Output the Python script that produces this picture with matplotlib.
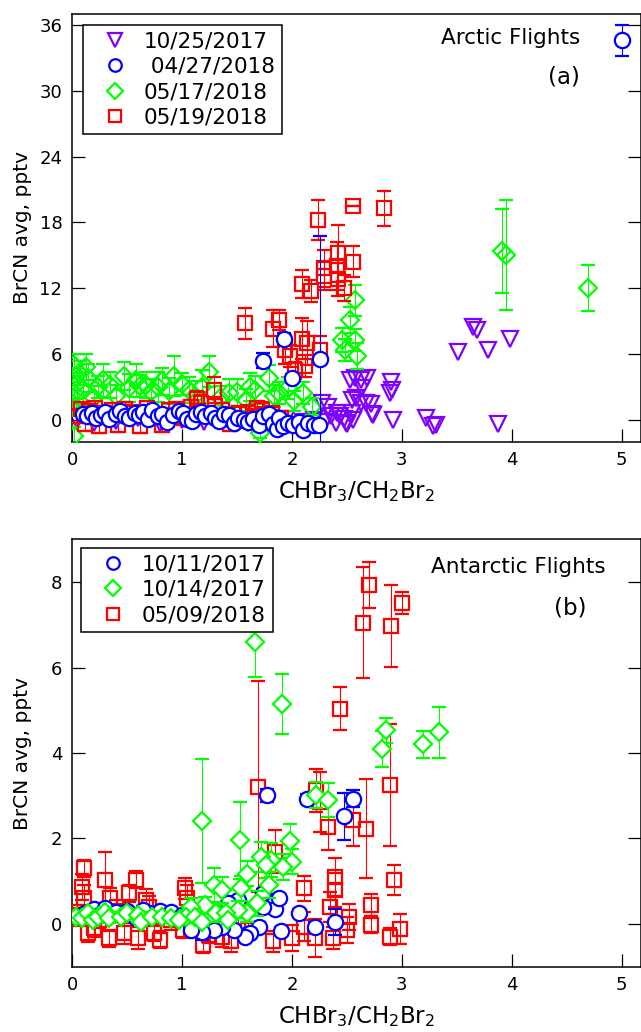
import matplotlib
matplotlib.use('Agg')
import matplotlib.pyplot as plt
from matplotlib.lines import Line2D

plt.rcParams['font.family'] = ['DejaVu Sans']
plt.rcParams['mathtext.default'] = 'regular'

# ---------------- panel (a): Arctic flights ----------------
a_oct25_x = [3.51, 3.65, 3.68, 3.78, 3.98, 3.87, 3.22, 3.28, 3.31, 2.90, 2.91, 2.92, 2.72, 2.73,
             2.63, 2.57, 2.64, 2.55, 2.63, 2.55, 2.56, 2.44, 2.27, 2.33, 2.36, 2.40, 2.30, 2.47,
             2.50, 2.20, 2.10, 1.95, 1.80, 1.60, 1.40, 1.20, 1.00, 0.80, 0.60, 0.40, 0.20, 0.05,
             2.53, 2.68, 2.89, 2.58, 2.67, 2.74, 2.41, 2.49]
a_oct25_y = [6.2, 8.5, 8.2, 6.4, 7.4, -0.4, 0.2, -0.6, -0.5, 3.4, 2.7, 0.0, 1.4, 0.5,
             3.6, 3.8, 2.9, 1.8, 1.5, 0.6, 0.0, 0.3, 1.5, 1.2, 0.3, -0.3, -0.2, 0.1,
             -0.4, 0.0, -0.2, 0.1, 0.2, -0.3, 0.1, -0.2, 0.0, -0.3, 0.2, -0.1, -0.3, 0.0,
             3.6, 3.8, 2.4, 2.0, 1.5, 0.45, 0.6, -0.3]

a_apr27_x = [0.10, 0.14, 0.18, 0.22, 0.26, 0.30, 0.34, 0.40, 0.44, 0.48, 0.52, 0.57, 0.61, 0.65,
             0.69, 0.73, 0.78, 0.82, 0.86, 0.92, 0.97, 1.01, 1.05, 1.09, 1.13, 1.17, 1.21, 1.26,
             1.30, 1.34, 1.38, 1.43, 1.47, 1.51, 1.56, 1.60, 1.65, 1.70, 1.74, 1.79, 1.83, 1.86,
             1.88, 1.92, 1.96, 2.01, 2.06, 2.10, 2.15, 2.20, 2.25,
             1.74, 1.93, 2.00, 2.26, 5.00]
a_apr27_y = [0.5, 0.3, 0.6, 0.2, 0.4, 0.7, 0.1, 0.5, 0.8, 0.3, 0.2, 0.6, 0.4, 0.7,
             0.1, 0.9, 0.3, 0.5, -0.2, 0.4, 0.8, 0.6, 0.1, -0.1, 0.5, 0.7, 0.3, 0.6,
             0.2, -0.1, 0.5, 0.4, -0.3, 0.2, 0.0, -0.2, 0.1, -0.5, 0.3, 0.5, -0.4, -0.8,
             0.2, -0.6, -0.3, -0.5, -0.2, -0.9, -0.3, -0.5, -0.5,
             5.4, 7.4, 3.8, 5.5, 34.6]
a_apr27_err = [0.4, 0.3, 0.4, 0.3, 0.4, 0.3, 0.4, 0.3, 0.4, 0.3, 0.4, 0.3, 0.4, 0.3,
               0.4, 0.3, 0.4, 0.3, 0.4, 0.3, 0.4, 0.3, 0.4, 0.3, 0.4, 0.3, 0.4, 0.3,
               0.4, 0.3, 0.4, 0.3, 0.4, 0.3, 0.4, 0.3, 0.4, 0.3, 0.4, 0.3, 0.4, 0.3,
               0.4, 0.3, 0.4, 0.3, 0.4, 0.3, 0.4, 0.3, 0.4,
               0.7, 0.5, 0.4, 11.3, 1.4]

a_may17_x = [3.91, 3.95, 4.69, 2.57, 2.53, 2.57, 2.46, 2.48, 2.59,
             0.02, 0.06, 0.15, 0.24, 0.28, 0.47, 0.58, 0.67, 0.82, 0.93, 1.06, 1.25, 1.43, 1.66,
             1.79, 1.88, 1.96, 2.10, 1.71, 0.02, 0.00, 0.02, 0.10, 0.35, 0.40, 0.52, 0.62, 0.72,
             0.78, 0.88, 1.00, 1.12, 1.18, 1.35, 1.50, 1.58, 1.62, 1.84, 2.02, 2.18, 0.20, 0.13, 0.05]
a_may17_y = [15.4, 15.0, 12.0, 10.9, 9.1, 7.3, 7.3, 6.4, 5.8,
             5.0, 4.3, 3.8, 3.0, 3.6, 4.0, 3.6, 3.2, 3.5, 4.0, 2.7, 4.4, 2.4, 2.7,
             3.8, 2.4, 2.9, 2.4, -1.2, 2.4, 1.5, -1.5, 2.8, 3.2, 2.2, 2.9, 3.1, 2.5,
             3.0, 2.6, 3.3, 2.2, 3.0, 2.0, 2.5, 1.8, 3.0, 2.2, 1.7, 1.2, 2.0, 4.8, 3.3]
a_may17_err = [3.8, 5.0, 2.1, 1.4, 1.2, 1.0, 1.1, 1.0, 1.2,
               1.0, 1.1, 1.3, 1.0, 1.5, 1.3, 1.5, 1.2, 1.2, 1.8, 1.2, 1.4, 1.3, 1.3,
               1.2, 1.0, 1.0, 1.0, 0.5, 1.0, 1.2, 0.8, 1.5, 1.2, 1.0, 1.3, 1.0, 1.2,
               1.4, 1.2, 1.0, 1.3, 1.5, 1.1, 1.2, 1.0, 1.3, 1.0, 0.9, 0.8, 1.1, 1.2, 1.4]

a_may19_x = [2.24, 2.56, 2.84, 1.57, 1.83, 1.88, 2.09, 2.17, 2.29, 2.29, 2.42, 2.41, 2.42, 2.47,
             2.56, 2.09, 2.14, 2.12, 2.26, 1.94, 1.29, 1.17, 1.14, 1.68, 1.73, 2.03, 1.98,
             0.04, 0.08, 0.12, 0.16, 0.21, 0.25, 0.30, 0.36, 0.42, 0.48, 0.55, 0.62, 0.68, 0.75,
             0.82, 0.88, 0.95, 1.02, 1.08, 1.15, 1.22, 1.30, 1.36, 1.44, 1.52, 1.60, 1.66, 1.75,
             1.82, 1.90]
a_may19_y = [18.2, 19.5, 19.3, 8.8, 8.3, 9.1, 12.4, 11.7, 13.8, 13.1, 15.2, 14.0, 12.8, 12.0,
             14.4, 7.4, 7.0, 4.9, 6.4, 6.4, 2.7, 1.5, 1.9, 1.1, 0.9, 4.5, 5.8,
             0.3, 1.0, -0.4, 0.8, 1.1, -0.6, 0.6, 0.9, -0.5, 1.0, 0.7, -0.6, 1.1, 0.4,
             -0.5, 0.9, 1.0, 0.2, 1.2, 0.8, 0.5, 1.3, 0.9, -0.4, 0.6, 0.7, 0.3, 0.5,
             0.6, 0.2]
a_may19_err = [1.8, 0.0, 1.6, 1.4, 1.7, 0.9, 1.3, 1.0, 1.7, 1.3, 2.6, 2.2, 1.5, 1.2,
               1.4, 1.9, 2.0, 1.0, 1.2, 1.3, 1.2, 0.8, 0.7, 0.6, 0.7, 0.8, 1.0,
               0.6, 0.6, 0.6, 0.6, 0.6, 0.6, 0.6, 0.6, 0.6, 0.6, 0.6, 0.6, 0.6, 0.6,
               0.6, 0.6, 0.6, 0.6, 0.6, 0.6, 0.6, 0.6, 0.6, 0.6, 0.6, 0.6, 0.6, 0.6,
               0.6, 0.6]

# ---------------- panel (b): Antarctic flights ----------------
b_oct11_x = [1.77, 2.14, 2.56, 2.47, 2.39, 2.21, 2.06, 1.90, 1.85, 1.88, 1.74, 1.70, 1.62, 1.57,
             1.47, 1.36, 1.29, 1.18, 1.08, 1.51, 1.42, 1.74, 0.20, 0.30, 0.40, 0.50, 0.58, 0.70,
             0.80, 0.90, 1.00, 0.12, 0.25, 0.65]
b_oct11_y = [3.01, 2.93, 2.93, 2.52, 0.05, -0.06, 0.26, -0.16, 0.34, 0.60, 0.40, -0.06, -0.20, -0.30,
             -0.14, -0.06, -0.14, -0.18, -0.14, 0.56, 0.48, 0.72, 0.35, 0.38, 0.28, 0.30, 0.13, 0.25,
             0.30, 0.28, 0.22, 0.25, 0.20, 0.32]
b_oct11_err = [0.15, 0.10, 0.20, 0.55, 0.30, 0.10, 0.10, 0.10, 0.10, 0.10, 0.10, 0.10, 0.10, 0.10,
               0.10, 0.10, 0.10, 0.20, 0.10, 0.10, 0.10, 0.10, 0.10, 0.10, 0.10, 0.10, 0.10, 0.10,
               0.10, 0.10, 0.10, 0.10, 0.10, 0.10]

b_oct14_x = [1.66, 1.91, 2.82, 2.86, 3.19, 3.34, 1.18, 1.53, 1.98, 2.22, 2.33, 2.00, 1.92, 1.81,
             1.72, 1.76, 1.79, 1.59, 1.54, 1.29, 1.36, 1.68, 1.59, 1.51, 1.21, 1.08, 1.31, 1.04,
             0.04, 0.09, 0.15, 0.19, 0.24, 0.30, 0.34, 0.45, 0.50, 0.60, 0.63, 0.73, 0.82, 0.90,
             0.97, 1.12, 1.18, 1.40, 1.42]
b_oct14_y = [6.60, 5.15, 4.10, 4.53, 4.20, 4.48, 2.41, 1.96, 1.94, 3.01, 2.90, 1.46, 1.34, 1.49,
             1.57, 1.38, 0.91, 1.18, 0.83, 0.91, 0.79, 0.48, 0.25, 0.33, 0.44, 0.40, 0.25, 0.17,
             0.17, 0.13, 0.25, 0.09, 0.17, 0.29, 0.13, 0.17, 0.25, 0.21, 0.05, 0.17, 0.17, 0.13,
             0.09, 0.17, 0.05, 0.25, 0.09]
b_oct14_err = [0.83, 0.70, 0.42, 0.30, 0.32, 0.60, 1.45, 0.90, 0.40, 0.30, 0.40, 0.30, 0.30, 0.40,
               0.35, 0.30, 0.30, 0.30, 0.30, 0.40, 0.30, 0.30, 0.20, 0.20, 0.20, 0.20, 0.20, 0.15,
               0.10, 0.10, 0.10, 0.10, 0.10, 0.10, 0.10, 0.10, 0.10, 0.10, 0.10, 0.10, 0.10, 0.10,
               0.10, 0.10, 0.10, 0.10, 0.10]

b_may09_x = [2.70, 2.65, 2.90, 3.00, 2.44, 1.69, 2.89, 2.33, 2.67, 2.56, 2.26, 2.22, 2.93, 2.72,
             2.72, 2.89, 2.98, 2.39, 2.39, 2.11, 2.35, 2.52, 2.50, 2.37, 2.21, 2.11, 2.00, 1.83,
             1.85, 0.11, 0.09, 0.11, 0.30, 0.35, 0.52, 0.58, 0.67, 0.15, 0.34, 0.47, 0.60, 0.80,
             1.03, 1.05, 1.19, 1.36, 1.51, 1.01, 0.20, 0.40, 0.75, 0.90, 1.25, 1.45, 1.60, 0.05,
             0.25, 0.70]
b_may09_y = [7.93, 7.05, 6.97, 7.51, 5.04, 3.21, 3.25, 2.27, 2.23, 2.43, 2.86, 3.13, 1.03, 0.44,
             -0.02, -0.30, -0.12, 1.10, 0.80, 0.83, 0.40, 0.17, -0.14, -0.33, -0.33, -0.06, -0.33, -0.41,
             1.69, 1.30, 0.87, 0.60, 1.03, 0.60, 0.72, 1.03, 0.56, -0.22, -0.33, -0.22, -0.33, -0.37,
             0.83, 0.60, -0.49, -0.30, -0.02, -0.14, -0.10, 0.30, -0.20, 0.10, -0.25, -0.40, -0.15, 0.20,
             0.10, 0.40]
b_may09_err = [0.53, 1.30, 0.95, 0.25, 0.50, 2.47, 1.43, 0.55, 1.15, 0.60, 0.70, 0.50, 0.35, 0.25,
               0.20, 0.20, 0.35, 0.45, 0.40, 0.30, 0.35, 0.30, 0.30, 0.25, 0.45, 0.35, 0.30, 0.25,
               0.50, 0.20, 0.30, 0.30, 0.65, 0.25, 0.20, 0.20, 0.25, 0.20, 0.20, 0.25, 0.25, 0.20,
               0.25, 0.30, 0.20, 0.25, 0.25, 0.20, 0.20, 0.25, 0.20, 0.25, 0.20, 0.25, 0.20, 0.25,
               0.20, 0.25]

PURPLE = '#7f00ff'
BLUE = '#0000ff'
GREEN = '#00ff00'
RED = '#ff0000'
FS_TICK = 13
FS_LAB = 14.5
FS_LEG = 15.5

fig = plt.figure(figsize=(6.41, 10.32), dpi=100)
ax_a = fig.add_axes([72/641, 1 - 441.7/1032, 1 - 72/641, 427.7/1032])
ax_b = fig.add_axes([72/641, 1 - 966.7/1032, 1 - 72/641, 427.4/1032])


def errpts(ax, x, y, err, marker, color, ms, face='none', z=2):
    ax.errorbar(x, y, yerr=err, fmt=marker, ms=ms, mfc=face, mec=color, mew=1.6,
                ecolor=color, elinewidth=0.8, capsize=4.7, capthick=1.0, zorder=z)


# panel a
ax_a.plot(a_oct25_x, a_oct25_y, 'v', ms=11.5, mfc='none', mec=PURPLE, mew=1.6, zorder=2)
errpts(ax_a, a_may17_x, a_may17_y, a_may17_err, 'D', GREEN, 9.0, z=3)
errpts(ax_a, a_may19_x, a_may19_y, a_may19_err, 's', RED, 10.5, z=4)
errpts(ax_a, a_apr27_x, a_apr27_y, a_apr27_err, 'o', BLUE, 11, face='white', z=5)

# panel b
errpts(ax_b, b_may09_x, b_may09_y, b_may09_err, 's', RED, 10.5, z=3)
errpts(ax_b, b_oct11_x, b_oct11_y, b_oct11_err, 'o', BLUE, 11, face='white', z=4)
errpts(ax_b, b_oct14_x, b_oct14_y, b_oct14_err, 'D', GREEN, 9.0, face='white', z=5)

for ax in (ax_a, ax_b):
    ax.set_xlim(0, 5.175)
    ax.set_xticks([0, 1, 2, 3, 4, 5])
    ax.tick_params(direction='in', length=9.5, width=0.9, labelsize=FS_TICK, pad=7,
                   left=True, right=True, top=False, bottom=True)
    for s in ax.spines.values():
        s.set_linewidth(1.1)
    ax.set_xlabel('CHBr$_3$/CH$_2$Br$_2$', fontsize=16.5, labelpad=7)
    ax.set_ylabel('BrCN avg, pptv', fontsize=FS_LAB)
    ax.yaxis.set_label_coords(-0.071, 0.5)

ax_a.set_ylim(-2, 37)
ax_a.set_yticks([0, 6, 12, 18, 24, 30, 36])
ax_b.set_ylim(-1, 9)
ax_b.set_yticks([0, 2, 4, 6, 8])

ax_a.text(0.893, 0.944, 'Arctic Flights', transform=ax_a.transAxes, ha='right', va='center', fontsize=FS_LEG)
ax_a.text(0.893, 0.853, '(a)', transform=ax_a.transAxes, ha='right', va='center', fontsize=FS_LEG + 1)
ax_b.text(0.937, 0.935, 'Antarctic Flights', transform=ax_b.transAxes, ha='right', va='center', fontsize=FS_LEG)
ax_b.text(0.905, 0.839, '(b)', transform=ax_b.transAxes, ha='right', va='center', fontsize=FS_LEG + 1)


def handle(marker, color, ms):
    return Line2D([], [], ls='none', marker=marker, ms=ms, mfc='none', mec=color, mew=1.6)


leg_kw = dict(loc='upper left', bbox_transform=fig.transFigure, borderaxespad=0, fontsize=FS_LEG,
              frameon=True, fancybox=False, edgecolor='black', framealpha=1, numpoints=1,
              handlelength=2.4, handletextpad=0.15, borderpad=0.3, labelspacing=0.25)

la = ax_a.legend([handle('v', PURPLE, 10.5), handle('o', BLUE, 9), handle('D', GREEN, 8.5),
                  handle('s', RED, 8.5)],
                 ['10/25/2017', ' 04/27/2018', '05/17/2018', '05/19/2018'],
                 bbox_to_anchor=(82.7/641, 1 - 25/1032), **leg_kw)
la.get_frame().set_linewidth(1.1)
la.set_zorder(10)

lb = ax_b.legend([handle('o', BLUE, 9), handle('D', GREEN, 8.5), handle('s', RED, 8.5)],
                 ['10/11/2017', '10/14/2017', '05/09/2018'],
                 bbox_to_anchor=(80.7/641, 1 - 548/1032), **leg_kw)
lb.get_frame().set_linewidth(1.1)
lb.set_zorder(10)

fig.savefig('out.png', dpi=100)
